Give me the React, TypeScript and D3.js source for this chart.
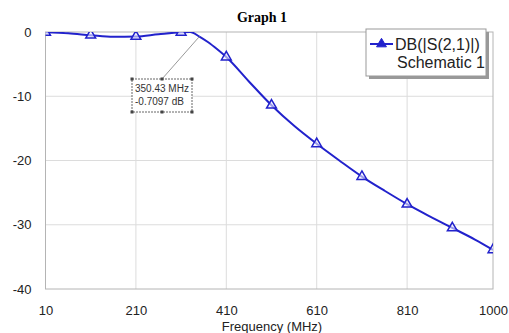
import { axisBottom, axisLeft, curveMonotoneX, line, scaleLinear, select, symbol, symbolTriangle } from "d3";
import { useEffect, useRef } from "react";

// S21 trace (MHz, dB)
const freq = [10, 60, 110, 160, 210, 260, 310, 330, 350.43, 370, 390, 410, 460, 510, 560, 610, 660, 710, 760, 810, 860, 910, 960, 1000];
const db = [-0.05, -0.2, -0.5, -0.75, -0.7, -0.35, -0.05, 0, -0.71, -1.6, -2.7, -3.9, -7.7, -11.4, -14.6, -17.4, -20.0, -22.5, -24.7, -26.8, -28.7, -30.5, -32.3, -33.9];

const markerFreq = [10, 110, 210, 310, 410, 510, 610, 710, 810, 910, 1000];
const markerDb = [-0.05, -0.5, -0.7, -0.05, -3.9, -11.4, -17.4, -22.5, -26.8, -30.5, -33.9];

const xTicks = [10, 210, 410, 610, 810, 1000];
const yTicks = [0, -10, -20, -30, -40];

const markerLabel = ["350.43 MHz", "-0.7097 dB"];
const markerAt = { f: 350.43, v: -0.7097 };

const W = 509;
const H = 333;
const margin = { top: 32, right: 16, bottom: 44, left: 45.5 };
const blue = "#2222cc";

const App = () => {
  const xRef = useRef<SVGGElement>(null);
  const yRef = useRef<SVGGElement>(null);

  const x = scaleLinear().domain([10, 1000]).range([margin.left, W - margin.right]);
  const y = scaleLinear().domain([-40, 0]).range([H - margin.bottom, margin.top]);

  useEffect(() => {
    if (xRef.current) {
      const g = select(xRef.current);
      g.call(axisBottom(x).tickValues(xTicks).tickSize(0).tickPadding(17).tickFormat((d) => `${d}`));
      g.select(".domain").remove();
      g.selectAll("text").attr("font-size", 13).attr("font-family", "Liberation Sans, Arial").attr("fill", "#222");
    }
    if (yRef.current) {
      const g = select(yRef.current);
      g.call(axisLeft(y).tickValues(yTicks).tickSize(0).tickPadding(14).tickFormat((d) => `${d}`));
      g.select(".domain").remove();
      g.selectAll("text").attr("font-size", 13).attr("font-family", "Liberation Sans, Arial").attr("fill", "#222");
    }
  }, []);

  const path = line<number>()
    .x((_, i) => x(freq[i]))
    .y((d) => y(d))
    .curve(curveMonotoneX)(db);

  const tri = symbol().type(symbolTriangle).size(42)();

  const px = x(markerAt.f);
  const py = y(markerAt.v);
  const box = { x: 132, y: 79, w: 60, h: 33 };

  return (
    <svg width={W} height={H} style={{ position: "absolute", left: 0, top: 0, background: "#fff" }}>
      <defs>
        <clipPath id="plot">
          <rect x={margin.left} y={margin.top} width={W - margin.left - margin.right} height={H - margin.top - margin.bottom} />
        </clipPath>
      </defs>
      <text x={262} y={22} textAnchor="middle" fontFamily="Liberation Serif, Times New Roman" fontWeight="bold" fontSize={14}>
        Graph 1
      </text>

      {xTicks.slice(1, -1).map((t) => (
        <line key={`gx${t}`} x1={x(t)} x2={x(t)} y1={y(0)} y2={y(-40)} stroke="#dcdcdc" />
      ))}
      {yTicks.slice(1, -1).map((t) => (
        <line key={`gy${t}`} x1={x(10)} x2={x(1000)} y1={y(t)} y2={y(t)} stroke="#dcdcdc" />
      ))}
      <rect x={margin.left} y={margin.top} width={W - margin.left - margin.right} height={H - margin.top - margin.bottom} fill="none" stroke="#b4b4b4" />

      <g ref={xRef} transform={`translate(0, ${H - margin.bottom})`} />
      <g ref={yRef} transform={`translate(${margin.left}, 0)`} />

      <g clipPath="url(#plot)">
        <path d={path ?? ""} fill="none" stroke={blue} strokeWidth={2} />
        {markerFreq.map((f, i) => (
          <path key={`m${f}`} d={tri ?? ""} transform={`translate(${x(f)}, ${y(markerDb[i])})`} fill="#eef" fillOpacity={0.6} stroke={blue} strokeWidth={1.5} />
        ))}
      </g>

      {/* marker readout */}
      <line x1={box.x + box.w / 2} y1={box.y} x2={px} y2={py} stroke="#999" />
      <rect x={box.x} y={box.y} width={box.w} height={box.h} fill="#fff" stroke="#666" strokeDasharray="2,1" />
      {[
        [box.x, box.y],
        [box.x + box.w / 2, box.y],
        [box.x + box.w, box.y],
        [box.x, box.y + box.h],
        [box.x + box.w / 2, box.y + box.h],
        [box.x + box.w, box.y + box.h],
      ].map(([hx, hy], i) => (
        <rect key={`h${i}`} x={hx - 1.5} y={hy - 1.5} width={3} height={3} fill="#444" />
      ))}
      {markerLabel.map((s, i) => (
        <text key={s} x={box.x + 3} y={box.y + 13 + i * 13} fontSize={10} fontFamily="Liberation Sans, Arial" fill="#333">
          {s}
        </text>
      ))}

      {/* legend */}
      <rect x={369} y={32} width={120} height={47} fill="#999" />
      <rect x={366} y={29} width={120} height={47} fill="#fff" stroke="#999" />
      <line x1={370} x2={393} y1={44} y2={44} stroke={blue} strokeWidth={2} />
      <path d={tri ?? ""} transform="translate(381.5, 44)" fill={blue} stroke={blue} />
      <text x={395} y={50} fontSize={16} fontFamily="Liberation Sans, Arial" fill="#222">
        DB(|S(2,1)|)
      </text>
      <text x={485} y={68} textAnchor="end" fontSize={16} fontFamily="Liberation Sans, Arial" fill="#222">
        Schematic 1
      </text>

      <text x={272} y={331} textAnchor="middle" fontSize={13} fontFamily="Liberation Sans, Arial" fill="#222">
        Frequency (MHz)
      </text>
    </svg>
  );
};

export default App;
